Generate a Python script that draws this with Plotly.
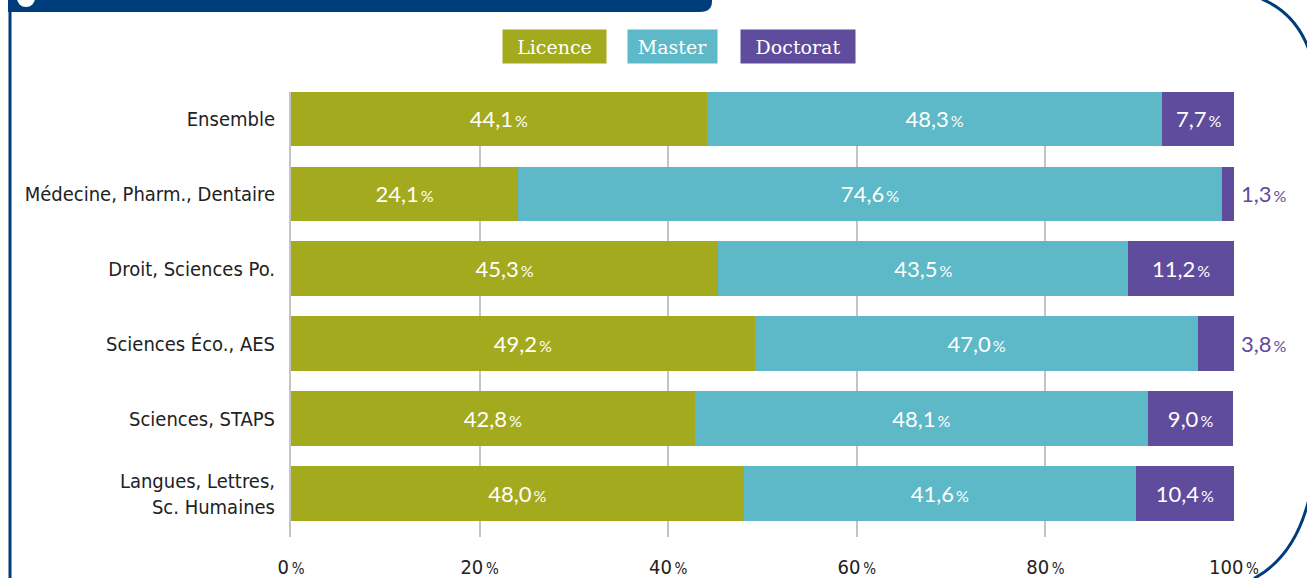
import plotly.graph_objects as go

categories = ["Ensemble", "Médecine, Pharm., Dentaire", "Droit, Sciences Po.",
              "Sciences Éco., AES", "Sciences, STAPS", "Langues, Lettres,<br>Sc. Humaines"]
licence = [44.1, 24.1, 45.3, 49.2, 42.8, 48.0]
master = [48.3, 74.6, 43.5, 47.0, 48.1, 41.6]
doctorat = [7.7, 1.3, 11.2, 3.8, 9.0, 10.4]
series_names = ["Licence", "Master", "Doctorat"]
colors = ["#A3AA1D", "#5DB9C7", "#5F4C9C"]
tick_vals = [0, 20, 40, 60, 80, 100]

FRAME = "#003D7C"
W, H = 1307, 578
PL, PR, PT, PB = 291, 1234, 92, 537.5  # plot area in px

def px(x):
    return (x - PL) / (PR - PL)

def py(y):
    return (PB - y) / (PB - PT)

def fmt(v):
    return f"{v:.1f}".replace(".", ",") + "<span style='font-size:16px'>\u2009%</span>"

LABEL_FONT = dict(family="Lato, 'Open Sans', sans-serif", size=22, color="white")
NARROW = "'Liberation Sans Narrow', 'Arial Narrow', 'DejaVu Sans Condensed', sans-serif"

fig = go.Figure()
for name, vals, col in zip(series_names, [licence, master, doctorat], colors):
    texts = [fmt(v) if v >= 5 else "" for v in vals]
    fig.add_trace(go.Bar(
        y=categories, x=vals, name=name, orientation="h",
        marker=dict(color=col, line=dict(width=0)),
        text=texts, textposition="inside", insidetextanchor="middle",
        textangle=0, insidetextfont=LABEL_FONT, hoverinfo="skip",
        showlegend=False,
    ))

annotations = []
# outside labels for small doctorat values
for cat, v in zip(categories, doctorat):
    if v < 5:
        annotations.append(dict(
            x=100, y=cat, xref="x", yref="y", text=fmt(v), showarrow=False,
            xanchor="left", yanchor="middle", xshift=5,
            font=dict(family=LABEL_FONT["family"], size=22, color=colors[2]),
        ))

# legend boxes
legend_boxes = [(503, 606), (628, 717), (741, 855)]
for (x0, x1), name, col in zip(legend_boxes, series_names, colors):
    annotations.append(dict(
        x=px((x0 + x1) / 2), y=py(46.5), xref="paper", yref="paper",
        text=name, showarrow=False, xanchor="center", yanchor="middle",
        width=x1 - x0, height=33, bgcolor=col, borderpad=0,
        font=dict(family="'DejaVu Serif', serif", size=19, color="white"),
    ))

shapes = []
# header bar
shapes.append(dict(
    type="path", xref="paper", yref="paper",
    path=(f"M {px(8)} {py(-2)} L {px(712)} {py(-2)} L {px(712)} {py(1)} "
          f"Q {px(712)} {py(12)} {px(700)} {py(12)} L {px(8)} {py(12)} Z"),
    fillcolor=FRAME, line=dict(width=0), layer="above",
))
# white circle in header
shapes.append(dict(
    type="circle", xref="paper", yref="paper",
    x0=px(17), x1=px(35), y0=py(7), y1=py(-11),
    fillcolor="white", line=dict(width=0), layer="above",
))
# left frame line
shapes.append(dict(
    type="line", xref="paper", yref="paper",
    x0=px(10), x1=px(10), y0=py(0), y1=py(580),
    line=dict(color=FRAME, width=3), layer="above",
))
# top-right arc
shapes.append(dict(
    type="path", xref="paper", yref="paper",
    path=f"M {px(1262)} {py(-1)} C {px(1283)} {py(8)} {px(1300)} {py(25)} {px(1309)} {py(50)}",
    line=dict(color=FRAME, width=3), layer="above",
))
# bottom-right arc
shapes.append(dict(
    type="path", xref="paper", yref="paper",
    path=f"M {px(1254)} {py(579)} C {px(1280)} {py(565)} {px(1300)} {py(540)} {px(1310)} {py(495)}",
    line=dict(color=FRAME, width=3), layer="above",
))

fig.update_layout(
    width=W, height=H,
    margin=dict(l=PL, r=W - PR, t=PT, b=H - PB, pad=0, autoexpand=False),
    barmode="stack", bargap=0.27,
    paper_bgcolor="white", plot_bgcolor="white",
    annotations=annotations, shapes=shapes,
    xaxis=dict(
        range=[0, 100], tickvals=tick_vals,
        ticktext=[f"{t}<span style='font-size:15px'>\u2009%</span>" for t in tick_vals],
        showgrid=True, gridcolor="#C4C4C4", gridwidth=1.5,
        zeroline=False, showline=False, automargin=False,
        tickfont=dict(family=NARROW, size=20, color="#222222"),
        ticklabelstandoff=16, fixedrange=True,
    ),
    yaxis=dict(
        categoryorder="array", categoryarray=categories,
        range=[5.58, -0.36], showgrid=False, zeroline=False, automargin=False,
        showline=True, linecolor="#C4C4C4", linewidth=2,
        tickfont=dict(family=NARROW, size=20, color="#222222"),
        ticklabelstandoff=10, fixedrange=True,
    ),
    font=dict(family=NARROW),
)

fig.write_html(
    "out.html",
    config={"displayModeBar": False},
    post_script="document.body.style.margin='0px';document.body.style.overflow='hidden';",
)
